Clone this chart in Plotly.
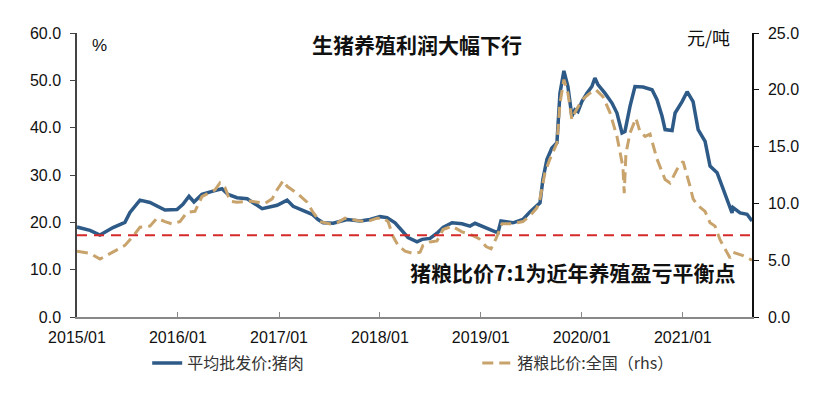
import plotly.graph_objects as go
import pandas as pd
import numpy as np

# ---- data ----
# time in decimal years, values of 平均批发价:猪肉 (left axis)
pork_t = [2015.000, 2015.129, 2015.228, 2015.357, 2015.475, 2015.525, 2015.624, 2015.723, 2015.872, 2015.991,
          2016.050, 2016.110, 2016.159, 2016.238, 2016.347, 2016.436, 2016.496, 2016.585, 2016.685, 2016.833,
          2016.981, 2017.080, 2017.140, 2017.239, 2017.328, 2017.387, 2017.437, 2017.536, 2017.675, 2017.803,
          2017.902, 2018.001, 2018.071, 2018.150, 2018.219, 2018.279, 2018.368, 2018.418, 2018.497, 2018.566,
          2018.626, 2018.715, 2018.814, 2018.893, 2018.943, 2019.091, 2019.170, 2019.200, 2019.319, 2019.418,
          2019.487, 2019.587, 2019.616, 2019.656, 2019.705, 2019.755, 2019.785, 2019.824, 2019.864, 2019.903,
          2019.933, 2019.963, 2020.002, 2020.052, 2020.101, 2020.131, 2020.161, 2020.230, 2020.300, 2020.349,
          2020.399, 2020.428, 2020.478, 2020.527, 2020.607, 2020.696, 2020.745, 2020.795, 2020.825, 2020.894,
          2020.924, 2020.993, 2021.043, 2021.102, 2021.152, 2021.221, 2021.270, 2021.340, 2021.399, 2021.449,
          2021.488, 2021.498, 2021.568, 2021.637, 2021.686]
pork_v = [19.0, 18.3, 17.3, 18.9, 20.0, 22.1, 24.7, 24.2, 22.6, 22.7,
          23.8, 25.5, 24.3, 25.9, 26.6, 27.1, 25.9, 25.2, 25.0, 22.9,
          23.6, 24.7, 23.4, 22.4, 21.7, 20.6, 19.9, 19.8, 20.6, 20.3,
          20.6, 21.2, 21.0, 19.9, 18.2, 16.8, 15.9, 16.4, 16.6, 17.7,
          18.9, 19.9, 19.7, 19.2, 19.8, 18.5, 17.8, 20.3, 19.9, 20.6,
          22.2, 24.1, 29.1, 33.3, 35.7, 36.8, 47.3, 52.0, 48.7, 42.4,
          43.8, 43.4, 45.5, 47.3, 48.7, 50.5, 49.1, 47.3, 45.2, 43.1,
          38.9, 39.2, 44.5, 48.7, 48.6, 48.0, 45.9, 42.4, 39.6, 39.4,
          43.1, 45.5, 47.6, 45.5, 39.6, 37.1, 31.9, 30.5, 26.9, 24.1,
          22.0, 23.1, 22.0, 21.7, 20.3]

# 猪粮比价:全国 (right axis)
ratio_t = [2015.000, 2015.129, 2015.228, 2015.357, 2015.475, 2015.555, 2015.624, 2015.723, 2015.792, 2015.872,
           2015.941, 2016.020, 2016.090, 2016.169, 2016.238, 2016.367, 2016.416, 2016.466, 2016.516, 2016.585,
           2016.714, 2016.862, 2016.932, 2016.981, 2017.041, 2017.080, 2017.179, 2017.278, 2017.338, 2017.407,
           2017.506, 2017.576, 2017.655, 2017.774, 2017.873, 2017.972, 2018.031, 2018.081, 2018.130, 2018.180,
           2018.249, 2018.328, 2018.398, 2018.427, 2018.497, 2018.566, 2018.626, 2018.715, 2018.814, 2018.913,
           2018.982, 2019.052, 2019.101, 2019.151, 2019.210, 2019.309, 2019.418, 2019.487, 2019.556, 2019.587,
           2019.636, 2019.685, 2019.755, 2019.785, 2019.824, 2019.864, 2019.903, 2019.933, 2020.002, 2020.082,
           2020.141, 2020.210, 2020.280, 2020.349, 2020.379, 2020.408, 2020.421, 2020.438, 2020.478, 2020.537,
           2020.577, 2020.627, 2020.676, 2020.745, 2020.825, 2020.874, 2020.943, 2021.003, 2021.072, 2021.102,
           2021.152, 2021.221, 2021.270, 2021.320, 2021.369, 2021.419, 2021.468, 2021.498, 2021.597, 2021.686]
ratio_v = [5.8, 5.6, 5.1, 5.7, 6.3, 7.1, 7.9, 8.0, 8.7, 8.4,
           8.2, 8.4, 9.2, 9.3, 10.6, 11.2, 11.8, 11.4, 10.2, 10.1,
           10.2, 10.0, 10.4, 11.2, 12.0, 11.5, 10.9, 10.1, 9.2, 8.4,
           8.2, 8.3, 8.7, 8.5, 8.4, 8.7, 8.7, 8.4, 7.1, 6.3,
           5.8, 5.6, 5.7, 6.3, 6.6, 6.7, 7.7, 8.0, 7.5, 7.2,
           6.9, 6.2, 6.0, 6.9, 8.2, 8.2, 8.4, 8.9, 9.6, 10.4,
           12.7, 13.9, 15.3, 18.8, 20.9, 19.7, 17.4, 18.0, 19.1, 19.7,
           20.0, 19.4, 18.0, 15.9, 14.4, 13.2, 10.9, 14.4, 16.2, 17.5,
           16.3, 15.9, 16.1, 13.9, 12.1, 11.8, 13.0, 13.7, 11.5, 10.4,
           9.8, 9.3, 8.3, 8.0, 6.8, 6.0, 5.2, 5.7, 5.4, 5.0]

breakeven_ratio = 7.2   # red dashed reference line (rhs)
x_start = 2015.000
x_end = 2021.686

left_ticks = [0, 10, 20, 30, 40, 50, 60]
right_ticks = [0, 5, 10, 15, 20, 25]
year_ticks = [2015, 2016, 2017, 2018, 2019, 2020, 2021]


def to_date(y):
    y = float(y)
    yr = int(np.floor(y))
    start = pd.Timestamp(year=yr, month=1, day=1)
    end = pd.Timestamp(year=yr + 1, month=1, day=1)
    return start + (end - start) * (y - yr)


pork_x = [to_date(t) for t in pork_t]
ratio_x = [to_date(t) for t in ratio_t]
xs, xe = to_date(x_start), to_date(x_end)

FONT_NUM = "Liberation Sans, Arial, sans-serif"
FONT_CJK = "Noto Sans CJK SC, sans-serif"

fig = go.Figure()
fig.add_trace(go.Scatter(x=pork_x, y=pork_v, mode="lines", name="平均批发价:猪肉",
                         line=dict(color="#2E5A87", width=3.5), yaxis="y", legend="legend"))
fig.add_trace(go.Scatter(x=ratio_x, y=ratio_v, mode="lines", name="猪粮比价:全国（rhs）",
                         line=dict(color="#C8A36C", width=3, dash="11px,6px"), yaxis="y2",
                         legend="legend2"))
fig.add_trace(go.Scatter(x=[xs, xe], y=[breakeven_ratio, breakeven_ratio], mode="lines",
                         line=dict(color="#D42A2A", width=2, dash="10px,7px"), yaxis="y2",
                         showlegend=False, hoverinfo="skip"))

legend_font = dict(family=FONT_CJK, size=16, color="#333333")
fig.update_layout(
    width=838, height=397,
    # the page body adds an 8px offset, margins compensate for it
    margin=dict(l=69, r=94, t=25, b=88, autoexpand=False),
    paper_bgcolor="white", plot_bgcolor="white",
    showlegend=True,
    legend=dict(orientation="h", x=0.104, xanchor="left", y=-0.162, yanchor="middle",
                font=legend_font, bgcolor="rgba(0,0,0,0)"),
    legend2=dict(orientation="h", x=0.593, xanchor="left", y=-0.162, yanchor="middle",
                 font=legend_font, bgcolor="rgba(0,0,0,0)"),
    xaxis=dict(type="date", range=[xs, xe],
               tickvals=[to_date(y) for y in year_ticks],
               ticktext=[f"{y}/01" for y in year_ticks],
               ticks="inside", ticklen=5, tickcolor="#888888",
               showline=True, linecolor="#888888", linewidth=1.5,
               showgrid=False, zeroline=False, ticklabelstandoff=5,
               tickfont=dict(family=FONT_NUM, size=16, color="#111111")),
    yaxis=dict(range=[0, 60], tickvals=left_ticks, ticktext=[f"{v:.1f}" for v in left_ticks],
               ticks="outside", ticklen=5, tickcolor="#444444",
               showline=True, linecolor="#444444", linewidth=1.5,
               showgrid=False, zeroline=False, ticklabelstandoff=6,
               tickfont=dict(family=FONT_NUM, size=16, color="#111111")),
    yaxis2=dict(range=[0, 25], tickvals=right_ticks, ticktext=[f"{v:.1f}" for v in right_ticks],
                overlaying="y", side="right", anchor="x",
                ticks="outside", ticklen=5, tickcolor="#111111",
                showline=True, linecolor="#111111", linewidth=1.5,
                showgrid=False, zeroline=False, ticklabelstandoff=6,
                tickfont=dict(family=FONT_NUM, size=16, color="#111111")),
    annotations=[
        dict(text="<b>生猪养殖利润大幅下行</b>", x=0.504, y=0.962, xref="paper", yref="paper",
             xanchor="center", yanchor="middle", showarrow=False,
             font=dict(family=FONT_CJK, size=21, color="#111111")),
        dict(text="%", x=0.034, y=0.955, xref="paper", yref="paper",
             xanchor="center", yanchor="middle", showarrow=False,
             font=dict(family=FONT_NUM, size=17, color="#111111")),
        dict(text="元/吨", x=0.936, y=0.985, xref="paper", yref="paper",
             xanchor="center", yanchor="middle", showarrow=False,
             font=dict(family=FONT_CJK, size=18, color="#111111")),
        dict(text="<b>猪粮比价7:1为近年养殖盈亏平衡点</b>", x=0.735, y=0.158, xref="paper", yref="paper",
             xanchor="center", yanchor="middle", showarrow=False,
             font=dict(family=FONT_CJK, size=21, color="#111111")),
    ],
)

fig.write_html("out.html")
